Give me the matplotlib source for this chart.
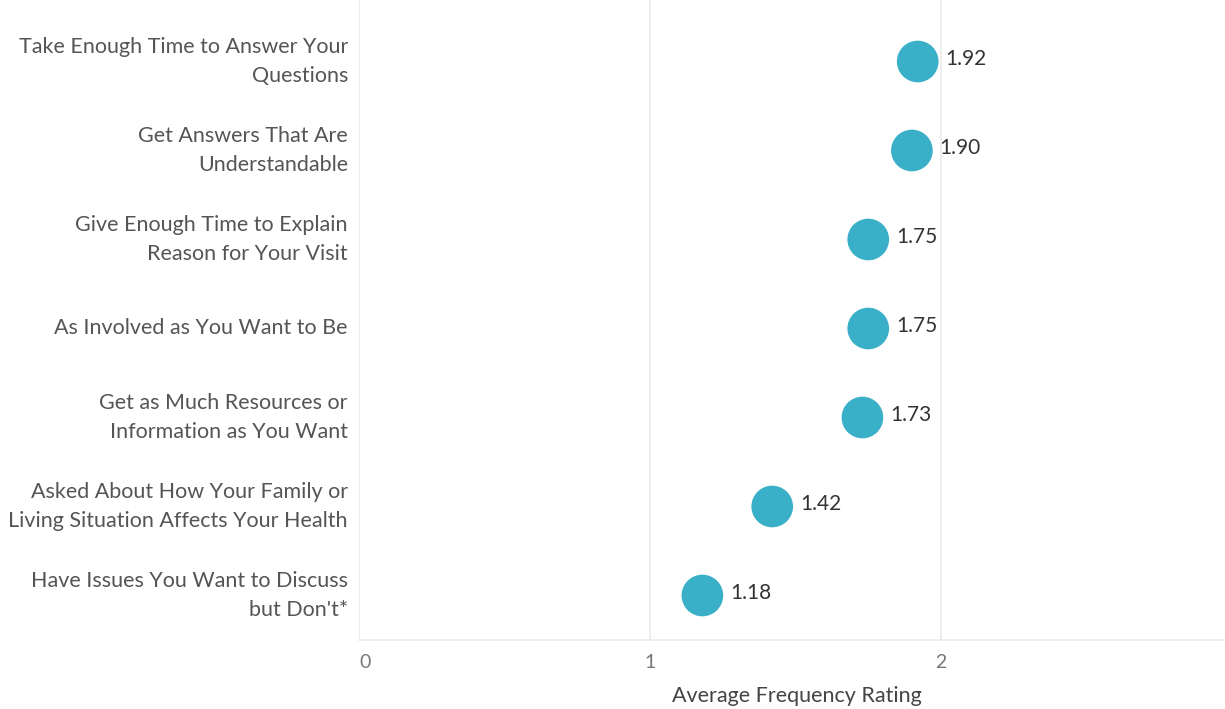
import matplotlib
matplotlib.use("Agg")
import matplotlib.pyplot as plt

categories = [
    "Take Enough Time to Answer Your\nQuestions",
    "Get Answers That Are\nUnderstandable",
    "Give Enough Time to Explain\nReason for Your Visit",
    "As Involved as You Want to Be",
    "Get as Much Resources or\nInformation as You Want",
    "Asked About How Your Family or\nLiving Situation Affects Your Health",
    "Have Issues You Want to Discuss\nbut Don't*",
]
ratings = [1.92, 1.90, 1.75, 1.75, 1.73, 1.42, 1.18]
x_ticks = [0, 1, 2, 3]
x_label = "Average Frequency Rating"

dot_color = "#3AAFC8"
grid_color = "#EBEBEB"

plt.rcParams["font.family"] = ["Lato", "DejaVu Sans"]

fig = plt.figure(figsize=(12.25, 7.09), dpi=100)
ax = fig.add_axes([359 / 1225, 69 / 709, 873 / 1225, 640 / 709])

ypos = list(range(len(categories)))
ax.scatter(ratings, ypos, s=30 ** 2, color=dot_color, zorder=3, edgecolors="none")
for x, y in zip(ratings, ypos):
    ax.annotate(f"{x:.2f}", (x, y), xytext=(20, 2), textcoords="offset points",
                ha="left", va="center", fontsize=15, color="#333333")

ax.set_xlim(0, 3)
ax.set_ylim(6.5, 6.5 - 640 / 89)
ax.set_xticks(x_ticks)
ax.set_xticklabels([str(t) for t in x_ticks], fontsize=14, color="#777777")
ax.get_xticklabels()[0].set_horizontalalignment("left")
ax.set_yticks(ypos)
ax.set_yticklabels(categories, fontsize=15.5, color="#555555", linespacing=1.55)
for lbl in ax.get_yticklabels():
    lbl.set_verticalalignment("center")
ax.tick_params(axis="both", length=0)
ax.tick_params(axis="x", pad=10)
ax.tick_params(axis="y", pad=8)

ax.grid(axis="x", color=grid_color, linewidth=1.2, zorder=0)
for side in ["top", "right", "left"]:
    ax.spines[side].set_visible(False)
ax.spines["bottom"].set_color(grid_color)
ax.spines["bottom"].set_linewidth(1.2)

ax.set_xlabel(x_label, fontsize=15.5, color="#444444")
ax.xaxis.set_label_coords(438 / 873, -0.072)

fig.savefig("out.png", dpi=100, facecolor="white")
